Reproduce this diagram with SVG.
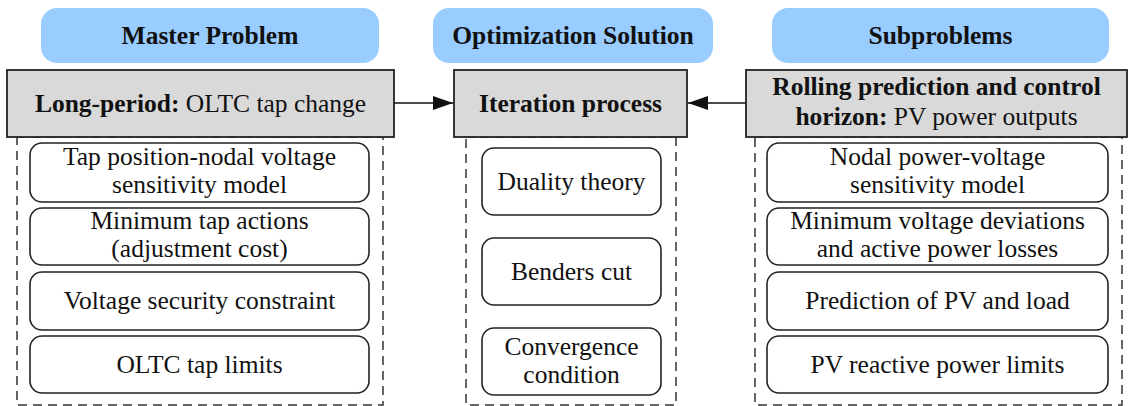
<svg xmlns="http://www.w3.org/2000/svg" width="1129" height="406" viewBox="0 0 1129 406">
<style>
text{font-family:'Liberation Serif','DejaVu Serif',serif;font-size:25.5px;fill:#111;text-anchor:middle}
.b{font-weight:bold}
.pill{fill:#99ccff;stroke:none}
.head{fill:#d9d9d9;stroke:#222;stroke-width:1.8}
.item{fill:#fff;stroke:#222;stroke-width:1.6}
.dash{fill:none;stroke:#333;stroke-width:1.5;stroke-dasharray:9 6}
.conn{stroke:#111;stroke-width:1.6;fill:none}
</style>
<defs>
<marker id="ah" viewBox="0 0 20 14" refX="20" refY="7" markerWidth="20" markerHeight="14" markerUnits="userSpaceOnUse" orient="auto">
<path d="M0,0 L20,7 L0,14 Z" fill="#111"/>
</marker>
</defs>

<g id="dashed-frames">
<rect class="dash" x="17" y="137" width="366" height="268"/>
<rect class="dash" x="466" y="137" width="210" height="268"/>
<rect class="dash" x="755" y="137" width="367" height="268"/>
</g>

<g id="master-title">
<rect class="pill" x="41" y="8" width="338" height="55" rx="16"/>
<text class="b" x="210" y="44">Master Problem</text>
</g>
<g id="opt-title">
<rect class="pill" x="433" y="8" width="280" height="55" rx="16"/>
<text class="b" x="573" y="44">Optimization Solution</text>
</g>
<g id="sub-title">
<rect class="pill" x="772" y="8" width="337" height="55" rx="16"/>
<text class="b" x="940.5" y="44">Subproblems</text>
</g>

<g id="master-head">
<rect class="head" x="7" y="70" width="387" height="67"/>
<text x="200.5" y="112"><tspan class="b">Long-period:</tspan> OLTC tap change</text>
</g>
<g id="iter-head">
<rect class="head" x="454" y="70" width="233" height="67"/>
<text class="b" x="570.5" y="112">Iteration process</text>
</g>
<g id="sub-head">
<rect class="head" x="746" y="70" width="381" height="67"/>
<text class="b" x="936.5" y="95">Rolling prediction and control</text>
<text x="936.5" y="125"><tspan class="b">horizon:</tspan> PV power outputs</text>
</g>

<g id="connectors">
<line class="conn" x1="394" y1="103" x2="453" y2="103" marker-end="url(#ah)"/>
<line class="conn" x1="746" y1="103" x2="688" y2="103" marker-end="url(#ah)"/>
</g>

<g id="m1">
<rect class="item" x="30" y="143" width="339" height="59" rx="12"/>
<text x="199.5" y="165">Tap position-nodal voltage</text>
<text x="199.5" y="193">sensitivity model</text>
</g>
<g id="m2">
<rect class="item" x="30" y="208" width="339" height="57" rx="12"/>
<text x="199.5" y="229">Minimum tap actions</text>
<text x="199.5" y="257">(adjustment cost)</text>
</g>
<g id="m3">
<rect class="item" x="30" y="272" width="339" height="58" rx="12"/>
<text x="199.5" y="309">Voltage security constraint</text>
</g>
<g id="m4">
<rect class="item" x="30" y="336" width="339" height="57" rx="12"/>
<text x="199.5" y="373">OLTC tap limits</text>
</g>

<g id="o1">
<rect class="item" x="482" y="148" width="179" height="67" rx="12"/>
<text x="571.5" y="190">Duality theory</text>
</g>
<g id="o2">
<rect class="item" x="482" y="238" width="179" height="67" rx="12"/>
<text x="571.5" y="280">Benders cut</text>
</g>
<g id="o3">
<rect class="item" x="482" y="328" width="179" height="67" rx="12"/>
<text x="571.5" y="355">Convergence</text>
<text x="571.5" y="383">condition</text>
</g>

<g id="s1">
<rect class="item" x="767" y="143" width="341" height="59" rx="12"/>
<text x="937.5" y="165">Nodal power-voltage</text>
<text x="937.5" y="193">sensitivity model</text>
</g>
<g id="s2">
<rect class="item" x="767" y="208" width="341" height="57" rx="12"/>
<text x="937.5" y="229">Minimum voltage deviations</text>
<text x="937.5" y="257">and active power losses</text>
</g>
<g id="s3">
<rect class="item" x="767" y="272" width="341" height="58" rx="12"/>
<text x="937.5" y="309">Prediction of PV and load</text>
</g>
<g id="s4">
<rect class="item" x="767" y="336" width="341" height="57" rx="12"/>
<text x="937.5" y="373">PV reactive power limits</text>
</g>
</svg>
